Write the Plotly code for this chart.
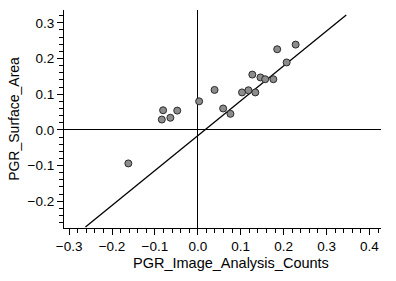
import plotly.graph_objects as go

# Data
image_counts = [-0.162, -0.084, -0.081, -0.064, -0.048, 0.003, 0.039, 0.059, 0.076,
                0.103, 0.118, 0.134, 0.127, 0.146, 0.157, 0.176, 0.185, 0.207, 0.228]
surface_area = [-0.094, 0.029, 0.055, 0.034, 0.054, 0.080, 0.112, 0.060, 0.045,
                0.105, 0.111, 0.105, 0.155, 0.147, 0.142, 0.142, 0.226, 0.189, 0.239]

# Fitted line end points
fit_x = [-0.262, 0.346]
fit_y = [-0.272, 0.322]

x_ticks = [-0.3, -0.2, -0.1, 0.0, 0.1, 0.2, 0.3, 0.4]
y_ticks = [-0.2, -0.1, 0.0, 0.1, 0.2, 0.3]

font_family = "Liberation Sans, Arial, sans-serif"

fig = go.Figure()
fig.add_trace(go.Scatter(x=fit_x, y=fit_y, mode="lines",
                         line=dict(color="black", width=1.3), hoverinfo="skip"))
fig.add_trace(go.Scatter(x=image_counts, y=surface_area, mode="markers",
                         marker=dict(size=7, color="#8c8c8c",
                                     line=dict(color="#2a2a2a", width=1))))

fig.update_layout(
    width=396, height=281,
    margin=dict(l=64, r=15, t=10, b=53),
    paper_bgcolor="white", plot_bgcolor="white",
    showlegend=False,
    font=dict(family=font_family, size=13, color="black"),
    xaxis=dict(range=[-0.312, 0.427], tickvals=x_ticks, tickformat=".1f",
               showgrid=False, zeroline=True, zerolinecolor="black", zerolinewidth=1,
               showline=True, linecolor="black", linewidth=1.2,
               ticks="outside", ticklen=6, tickcolor="black",
               minor=dict(dtick=0.02, tick0=0, ticks="outside", ticklen=4, tickcolor="black"),
               tickfont=dict(size=13.5)),
    yaxis=dict(range=[-0.275, 0.336], tickvals=y_ticks, tickformat=".1f",
               showgrid=False, zeroline=True, zerolinecolor="black", zerolinewidth=1,
               showline=True, linecolor="black", linewidth=1.2,
               ticks="outside", ticklen=6, tickcolor="black",
               minor=dict(dtick=0.02, tick0=0, ticks="outside", ticklen=4, tickcolor="black"),
               title=dict(text="PGR_Surface_Area", font=dict(size=14), standoff=4),
               tickfont=dict(size=13.5)),
    annotations=[dict(text="PGR_Image_Analysis_Counts", xref="paper", yref="paper",
                      x=0.527, y=-0.16, xanchor="center", yanchor="middle",
                      showarrow=False, font=dict(size=14.5))],
)

fig.write_html("out.html")
